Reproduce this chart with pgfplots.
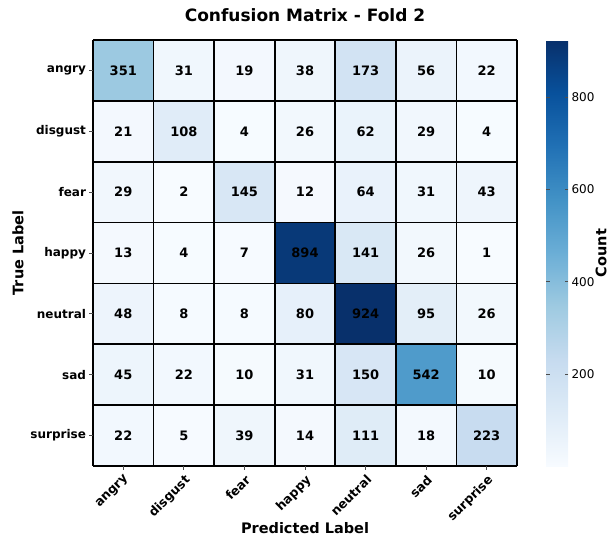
\documentclass[border=0pt]{standalone}
\usepackage{fontspec}
\setmainfont{DejaVu Sans}
\usepackage{pgfplots}
\pgfplotsset{compat=1.18}
\usepackage{pgfplotstable}
\pgfplotstableread{
x y c
0 0 351
1 0 31
2 0 19
3 0 38
4 0 173
5 0 56
6 0 22
0 1 21
1 1 108
2 1 4
3 1 26
4 1 62
5 1 29
6 1 4
0 2 29
1 2 2
2 2 145
3 2 12
4 2 64
5 2 31
6 2 43
0 3 13
1 3 4
2 3 7
3 3 894
4 3 141
5 3 26
6 3 1
0 4 48
1 4 8
2 4 8
3 4 80
4 4 924
5 4 95
6 4 26
0 5 45
1 5 22
2 5 10
3 5 31
4 5 150
5 5 542
6 5 10
0 6 22
1 6 5
2 6 39
3 6 14
4 6 111
5 6 18
6 6 223
}\cmdata
\begin{document}
\begin{tikzpicture}
\useasboundingbox (-93pt,-76pt) rectangle (517pt,466pt);
\begin{axis}[
  at={(0pt,0pt)}, anchor=south west,
  scale only axis, width=424pt, height=426pt,
  xmin=-0.5, xmax=6.5, ymin=-0.5, ymax=6.5, y dir=reverse,
  enlargelimits=false,
  xtick={0,...,6}, ytick={0,...,6},
  xticklabels={angry,disgust,fear,happy,neutral,sad,surprise},
  yticklabels={angry,disgust,fear,happy,neutral,sad,surprise},
  x tick label style={rotate=45, anchor=north east, font=\bfseries\fontsize{12.5}{14}\selectfont, inner sep=3pt},
  y tick label style={font=\bfseries\fontsize{12}{14}\selectfont},
  tick align=outside, xtick pos=bottom, ytick pos=left,
  major tick length=3.5pt,
  tick style={black!70, line width=0.8pt},
  minor xtick={-0.5,0.5,...,6.5}, minor ytick={-0.5,0.5,...,6.5},
  minor tick length=0pt,
  xminorgrids=true, yminorgrids=true,
  minor grid style={black, line width=1.8pt},
  axis line style={draw=none},
  axis on top,
  colormap={blues}{rgb255=(247,251,255) rgb255=(222,235,247) rgb255=(198,219,239) rgb255=(158,202,225) rgb255=(107,174,214) rgb255=(66,146,198) rgb255=(33,113,181) rgb255=(8,81,156) rgb255=(8,48,107)},
  point meta min=1, point meta max=924,
  title={Confusion Matrix - Fold 2},
  title style={font=\bfseries\fontsize{17}{20}\selectfont, at={(axis description cs:0.5,1)}, anchor=center, yshift=19pt},
  xlabel={Predicted Label},
  xlabel style={font=\bfseries\fontsize{14.5}{17}\selectfont, at={(axis description cs:0.5,0)}, anchor=center, yshift=-62pt},
  ylabel={True Label},
  ylabel style={font=\bfseries\fontsize{14.5}{17}\selectfont},
  colorbar,
  colorbar/width=22pt,
  colorbar shift/.style={xshift=29pt},
  colorbar style={
    at={(parent axis.north east)}, anchor=north west,
    scale only axis, width=22pt, height=426pt,
    ytick={200,400,600,800},
    yticklabel style={font=\fontsize{12}{14}\selectfont, /pgf/number format/assume math mode=true},
    ylabel={Count},
    ylabel style={font=\bfseries\fontsize{14.5}{17}\selectfont, at={(axis description cs:1,0.5)}, anchor=center, yshift=-33pt},
    axis line style={draw=none},
    major tick length=3.5pt,
    tick style={black!70, line width=0.8pt},
  },
]
\addplot[matrix plot*, mesh/cols=7, mesh/rows=7, mesh/ordering=x varies, point meta=explicit,
  nodes near coords={\pgfmathprintnumber[assume math mode=true, int detect]{\pgfplotspointmeta}},
  every node near coord/.append style={anchor=center, black, font=\bfseries\fontsize{13}{15}\selectfont},
] table[x=x, y=y, meta=c] {\cmdata};
\end{axis}
\end{tikzpicture}
\end{document}
